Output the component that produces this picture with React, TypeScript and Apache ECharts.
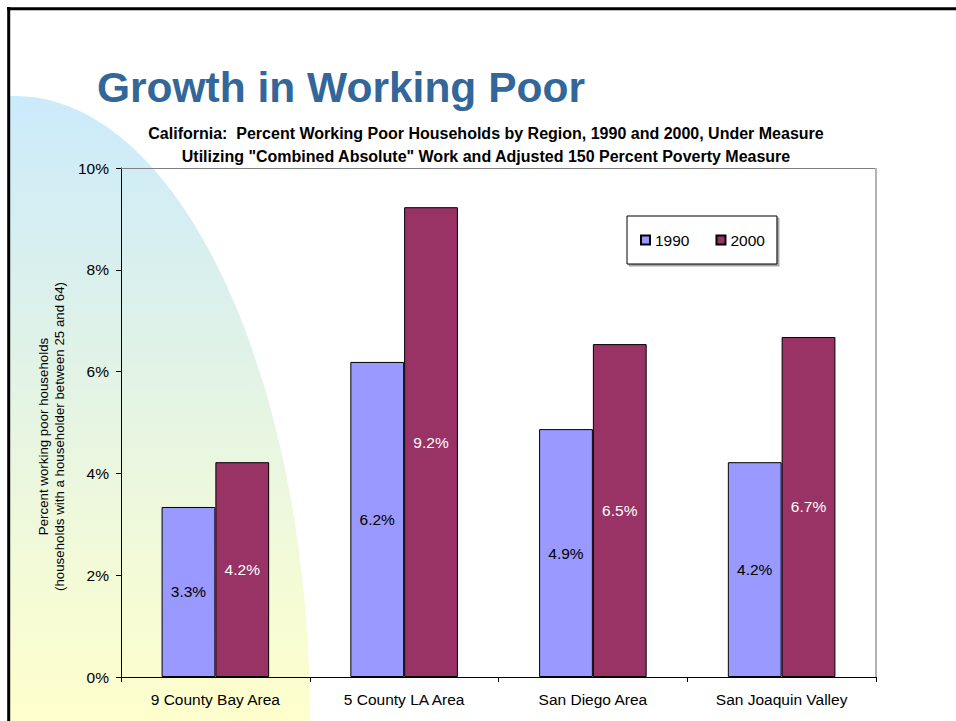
import React, { useEffect, useRef } from "react";
import * as echarts from "echarts";

const categories = ["9 County Bay Area", "5 County LA Area", "San Diego Area", "San Joaquin Valley"];
const seriesNames = ["1990", "2000"];
const values1990 = [3.34, 6.19, 4.87, 4.22];
const values2000 = [4.22, 9.23, 6.54, 6.68];
const yMin = 0;
const yMax = 10;
const yInterval = 2;

const titleText = "Growth in Working Poor";
const subtitleLines = [
  "California:  Percent Working Poor Households by Region, 1990 and 2000, Under Measure",
  'Utilizing "Combined Absolute" Work and Adjusted 150 Percent Poverty Measure',
];
const yAxisName = "Percent working poor households\n(households with a householder between 25 and 64)";

const FONT = "'Liberation Sans', Arial, Helvetica, sans-serif";

export default function App() {
  const ref = useRef<HTMLDivElement>(null);

  useEffect(() => {
    if (!ref.current) return;
    const chart = echarts.init(ref.current, undefined, { renderer: "svg" });
    const fmt = (p: any) => Number(p.value).toFixed(1) + "%";
    chart.setOption({
      animation: false,
      backgroundColor: "#ffffff",
      textStyle: { fontFamily: FONT },
      graphic: [
        {
          type: "ellipse",
          z: -10,
          silent: true,
          shape: { cx: 15, cy: 721, rx: 295, ry: 625 },
          style: {
            fill: new echarts.graphic.LinearGradient(0, 96, 0, 721, [
              { offset: 0, color: "#CBEAFB" },
              { offset: 1, color: "#FFFFCC" },
            ], true),
          },
        },
        { type: "rect", z: 50, silent: true, shape: { x: 0, y: 0, width: 8, height: 721 }, style: { fill: "#ffffff" } },
        { type: "line", z: 51, silent: true, shape: { x1: 7, y1: 8.7, x2: 956, y2: 8.7 }, style: { stroke: "#000", lineWidth: 3 } },
        { type: "line", z: 51, silent: true, shape: { x1: 8.7, y1: 7, x2: 8.7, y2: 721 }, style: { stroke: "#000", lineWidth: 3 } },
        { type: "line", z: 5, silent: true, shape: { x1: 121, y1: 168.5, x2: 876, y2: 168.5 }, style: { stroke: "#808080", lineWidth: 1 } },
        { type: "line", z: 5, silent: true, shape: { x1: 876, y1: 168, x2: 876, y2: 677 }, style: { stroke: "#b3b3b3", lineWidth: 2 } },
        {
          type: "text",
          z: 20,
          x: 97,
          y: 87,
          style: {
            text: titleText,
            fill: "#336699",
            font: `bold 42.5px ${FONT}`,
            textAlign: "left",
            textVerticalAlign: "middle",
          },
        },
        {
          type: "text",
          z: 20,
          x: 486,
          y: 133,
          style: {
            text: subtitleLines[0],
            fill: "#000",
            font: `bold 16px ${FONT}`,
            textAlign: "center",
            textVerticalAlign: "middle",
          },
        },
        {
          type: "text",
          z: 20,
          x: 486,
          y: 156,
          style: {
            text: subtitleLines[1],
            fill: "#000",
            font: `bold 16px ${FONT}`,
            textAlign: "center",
            textVerticalAlign: "middle",
          },
        },
      ],
      grid: { left: 121, top: 168, width: 755, height: 509, containLabel: false },
      legend: {
        data: seriesNames,
        left: 627,
        top: 216,
        orient: "horizontal",
        padding: [16, 12, 16, 13],
        itemWidth: 9,
        itemHeight: 9,
        itemGap: 26,
        icon: "rect",
        backgroundColor: "#ffffff",
        borderColor: "#000",
        borderWidth: 1,
        shadowColor: "rgba(0,0,0,0.35)",
        shadowOffsetX: 2,
        shadowOffsetY: 2,
        shadowBlur: 1,
        textStyle: { fontSize: 15.5, color: "#000", fontFamily: FONT },
      },
      xAxis: {
        type: "category",
        data: categories,
        axisLine: { lineStyle: { color: "#000", width: 1 } },
        axisTick: { show: true, length: 5, alignWithLabel: false, lineStyle: { color: "#000" } },
        axisLabel: { fontSize: 15.5, color: "#000", margin: 14, fontFamily: FONT },
        splitLine: { show: false },
      },
      yAxis: {
        type: "value",
        min: yMin,
        max: yMax,
        interval: yInterval,
        axisLine: { show: true, lineStyle: { color: "#000", width: 1 } },
        axisTick: { show: true, length: 5, lineStyle: { color: "#000" } },
        axisLabel: { fontSize: 15.5, color: "#000", margin: 12, formatter: "{value}%", fontFamily: FONT },
        splitLine: { show: false },
        name: yAxisName,
        nameLocation: "middle",
        nameRotate: 90,
        nameGap: 47,
        nameTextStyle: { fontSize: 13.3, color: "#000", lineHeight: 16, fontFamily: FONT, padding: [0, 28, 0, 0] },
      },
      series: [
        {
          name: seriesNames[0],
          type: "bar",
          data: values1990,
          barGap: "0%",
          barCategoryGap: "43%",
          itemStyle: { color: "#9999FF", borderColor: "#000", borderWidth: 1 },
          label: { show: true, position: "inside", color: "#000", fontSize: 15.5, formatter: fmt, fontFamily: FONT },
        },
        {
          name: seriesNames[1],
          type: "bar",
          data: values2000,
          barGap: "0%",
          barCategoryGap: "43%",
          itemStyle: { color: "#993366", borderColor: "#000", borderWidth: 1 },
          label: { show: true, position: "inside", color: "#fff", fontSize: 15.5, formatter: fmt, fontFamily: FONT },
        },
      ],
    });
    return () => chart.dispose();
  }, []);

  return <div ref={ref} style={{ position: "fixed", left: 0, top: 0, width: 956, height: 721 }} />;
}
